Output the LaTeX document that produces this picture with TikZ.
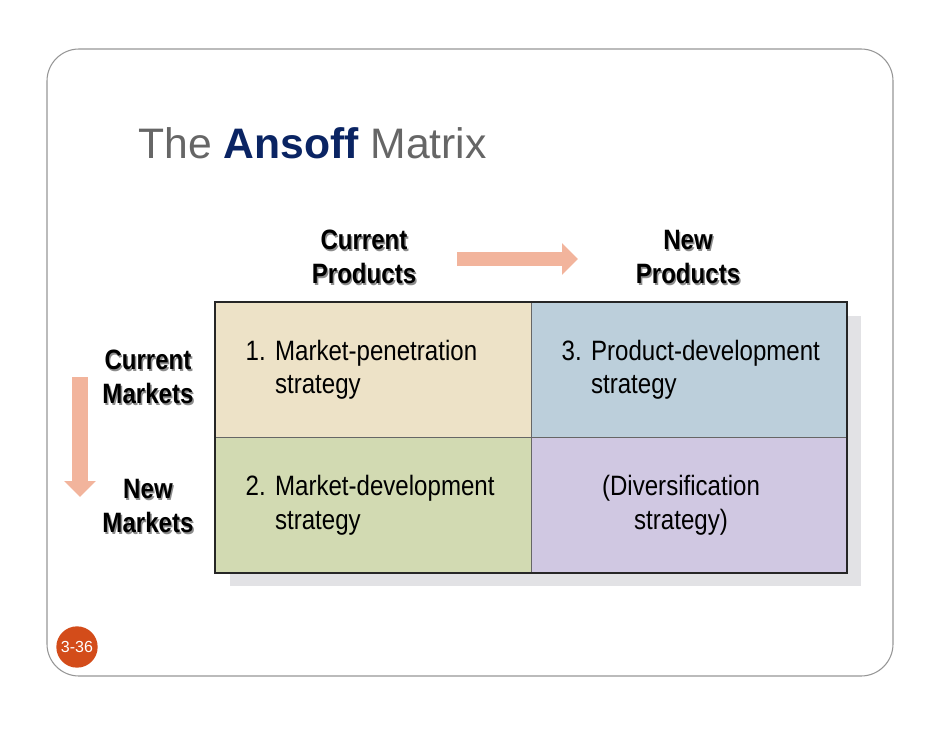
\documentclass[tikz,border=0pt]{standalone}
\usepackage{fontspec}
\setmainfont{Liberation Sans}
\newfontfamily\condfont[FakeStretch=0.86]{Liberation Sans}
\usetikzlibrary{arrows.meta,positioning,calc,backgrounds}
\definecolor{titlegrey}{RGB}{102,102,102}
\definecolor{ansoffblue}{RGB}{10,36,99}
\definecolor{framegrey}{RGB}{150,150,150}
\definecolor{arrowpink}{RGB}{242,180,156}
\definecolor{cellsand}{RGB}{237,226,199}
\definecolor{cellsky}{RGB}{188,207,219}
\definecolor{cellolive}{RGB}{210,218,178}
\definecolor{celllilac}{RGB}{208,200,226}
\definecolor{shadowgrey}{RGB}{226,226,229}
\definecolor{badgeorange}{RGB}{211,76,26}
\newcommand{\hdr}[1]{\makebox[0pt][l]{\hspace{1.1pt}\raisebox{-1.1pt}{\color{black!45}#1}}#1}
\newcommand{\nobreakcell}{\exhyphenpenalty=10000\relax\hbadness=10000\relax\hfuzz=40pt\relax}

\begin{document}
\begin{tikzpicture}[x=0.75pt, y=-0.75pt,
    cell/.style={draw=black!60, outer sep=0pt, minimum width=237pt, minimum height=101.6pt,
                 inner xsep=23pt, text width=191pt, align=left,
                 font=\condfont\fontsize{21}{25}\selectfont, execute at begin node=\nobreakcell},
    head/.style={align=center, font=\condfont\bfseries\fontsize{21}{25.5}\selectfont},
    bigarrow/.style={draw=arrowpink, -{Triangle[length=12pt, width=23pt]}}
]
\useasboundingbox (0,0) rectangle (942,728);
\draw[framegrey, line width=0.8pt, rounded corners=24pt] (47,49) rectangle (893,676);
\node[anchor=base west, inner sep=0pt, text=titlegrey, font=\fontsize{32}{38}\selectfont] (title) at (138,158)
    {The \textcolor{ansoffblue}{\bfseries Ansoff} Matrix};
\node[cell, fill=cellsand, anchor=north west] (pen) at (215,302) {1.~Market-penetration\\\phantom{1.~}strategy};
\node[cell, fill=cellsky, right=0pt of pen] (prod) {3.~Product-development\\\phantom{3.~}strategy};
\node[cell, fill=cellolive, below=0pt of pen] (mkt) {2.~Market-development\\\phantom{2.~}strategy};
\node[cell, fill=celllilac, below=0pt of prod, align=center] (div)
    {\hspace*{-12pt}(Diversification\\\hspace*{-12pt}strategy)};
\draw[black!85, line width=1.2pt] (pen.north west) rectangle (div.south east);
\begin{scope}[on background layer]
\fill[shadowgrey] ($(pen.north west)+(15,14)$) rectangle ($(div.south east)+(14,13)$);
\end{scope}
\node[head] (curprod) at (364,258) {\hdr{Current}\\\hdr{Products}};
\node[head] (newprod) at (688,258) {\hdr{New}\\\hdr{Products}};
\node[head] (curmkt) at (148,378) {\hdr{Current}\\\hdr{Markets}};
\node[head] (newmkt) at (148,507) {\hdr{New}\\\hdr{Markets}};
\coordinate (ptail) at (457,259);
\coordinate (ptip) at (578,259);
\coordinate (mtail) at (80,377);
\coordinate (mtip) at (80,497);
\draw[bigarrow, line width=10.5pt] (ptail) -- (ptip);
\draw[bigarrow, line width=12pt] (mtail) -- (mtip);
\node[circle, fill=badgeorange, minimum size=31pt, inner sep=0pt, text=white,
      font=\fontsize{12}{14}\selectfont] (slideno) at (77,647) {3-36};
\end{tikzpicture}
\end{document}
